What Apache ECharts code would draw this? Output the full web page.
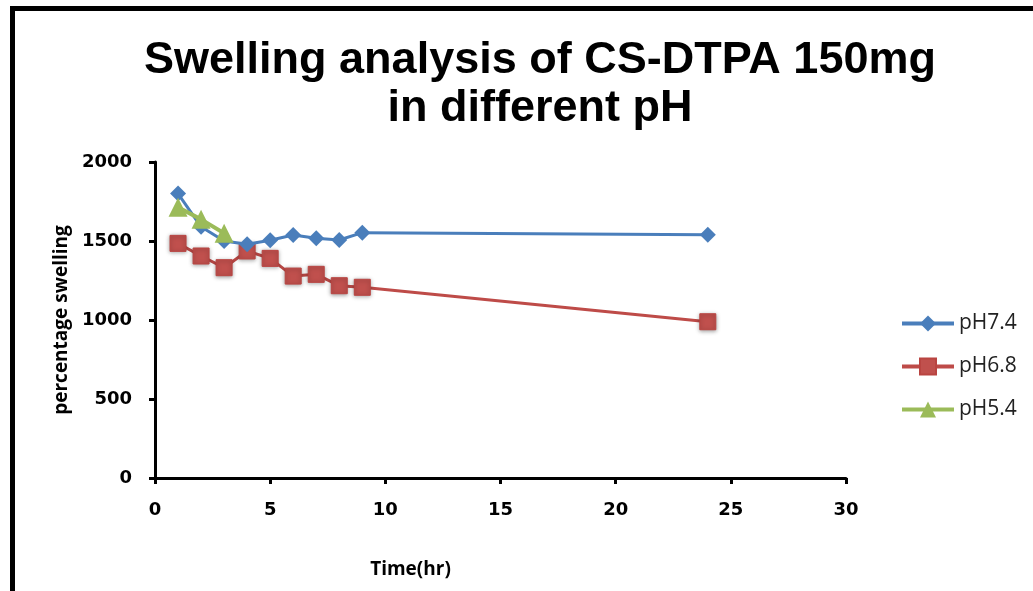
<!DOCTYPE html>
<html><head><meta charset="utf-8">
<script src="https://cdn.jsdelivr.net/npm/echarts@6/dist/echarts.min.js"></script>
<style>html,body{margin:0;padding:0;background:#fff}#c{width:1033px;height:591px}</style>
</head><body><div id="c"></div>
<script>
const times74 = [1, 2, 3, 4, 5, 6, 7, 8, 9, 24];
const ph74 = [1800, 1590, 1500, 1480, 1505, 1538, 1517, 1506, 1553, 1540];
const times68 = [1, 2, 3, 4, 5, 6, 7, 8, 9, 24];
const ph68 = [1485, 1405, 1331, 1437, 1390, 1278, 1289, 1217, 1207, 989];
const times54 = [1, 2, 3];
const ph54 = [1713, 1637, 1549];
const seriesNames = ['pH7.4', 'pH6.8', 'pH5.4'];
const xTicks = [0, 5, 10, 15, 20, 25, 30];
const yTicks = [0, 500, 1000, 1500, 2000];

const pair = (xs, ys) => xs.map((x, i) => [x, ys[i]]);
const chart = echarts.init(document.getElementById('c'));
const tickFont = {fontFamily: 'DejaVu Sans', fontWeight: 'bold', fontSize: 18, color: '#000'};
chart.setOption({
  animation: false,
  backgroundColor: '#fff',
  title: {
    text: 'Swelling analysis of CS-DTPA 150mg\nin different pH',
    left: 535, textAlign: 'center', top: 32,
    textStyle: {fontFamily: 'Liberation Sans', fontWeight: 'bold', fontSize: 45, lineHeight: 48, color: '#000'}
  },
  graphic: [{
    type: 'rect', shape: {x: 12.5, y: 8.5, width: 1100, height: 700},
    style: {fill: 'none', stroke: '#000', lineWidth: 5}, silent: true
  }],
  legend: {
    orient: 'vertical', left: 895, top: 307, itemGap: 20,
    itemWidth: 52, itemHeight: 20,
    lineStyle: {width: 4},
    textStyle: {fontFamily: 'Open Sans', fontSize: 21, lineHeight: 23, color: '#222'},
    data: seriesNames
  },
  grid: {left: 155, right: 187, top: 162, bottom: 113, containLabel: false},
  xAxis: {
    type: 'value', min: 0, max: 30, interval: 5,
    name: 'Time(hr)', nameLocation: 'middle', nameGap: 82,
    nameTextStyle: {fontFamily: 'Open Sans', fontWeight: 'bold', fontSize: 19, color: '#000', padding: [0, 180, 0, 0]},
    axisLine: {show: true, lineStyle: {color: '#000', width: 3}},
    axisTick: {show: true, length: 6, lineStyle: {color: '#000', width: 3}},
    axisLabel: Object.assign({margin: 23, customValues: xTicks}, tickFont),
    splitLine: {show: false}
  },
  yAxis: {
    type: 'value', min: 0, max: 2000, interval: 500,
    name: 'percentage swelling', nameLocation: 'middle', nameGap: 82, nameRotate: 90,
    nameTextStyle: {fontFamily: 'Open Sans', fontWeight: 'bold', fontSize: 19, color: '#000'},
    axisLine: {show: true, lineStyle: {color: '#000', width: 3}},
    axisTick: {show: true, length: 6, lineStyle: {color: '#000', width: 3}},
    axisLabel: Object.assign({margin: 23, customValues: yTicks, formatter: v => String(v)}, tickFont),
    splitLine: {show: false}
  },
  series: [
    {name: seriesNames[0], type: 'line', data: pair(times74, ph74), symbol: 'diamond', symbolSize: 16,
     lineStyle: {color: '#4A7EBB', width: 3}, itemStyle: {color: '#4A7EBB'}, z: 3},
    {name: seriesNames[1], type: 'line', data: pair(times68, ph68), symbol: 'rect', symbolSize: 16,
     lineStyle: {color: '#BE4B48', width: 3}, itemStyle: {color: '#C0504D', borderColor: '#B94441', borderWidth: 1, shadowColor: 'rgba(0,0,0,0.35)', shadowBlur: 4, shadowOffsetY: 1}, z: 2},
    {name: seriesNames[2], type: 'line', data: pair(times54, ph54), symbol: 'triangle', symbolSize: 19,
     lineStyle: {color: '#9BBB59', width: 4}, itemStyle: {color: '#9BBB59'}, z: 4}
  ]
});
</script></body></html>
